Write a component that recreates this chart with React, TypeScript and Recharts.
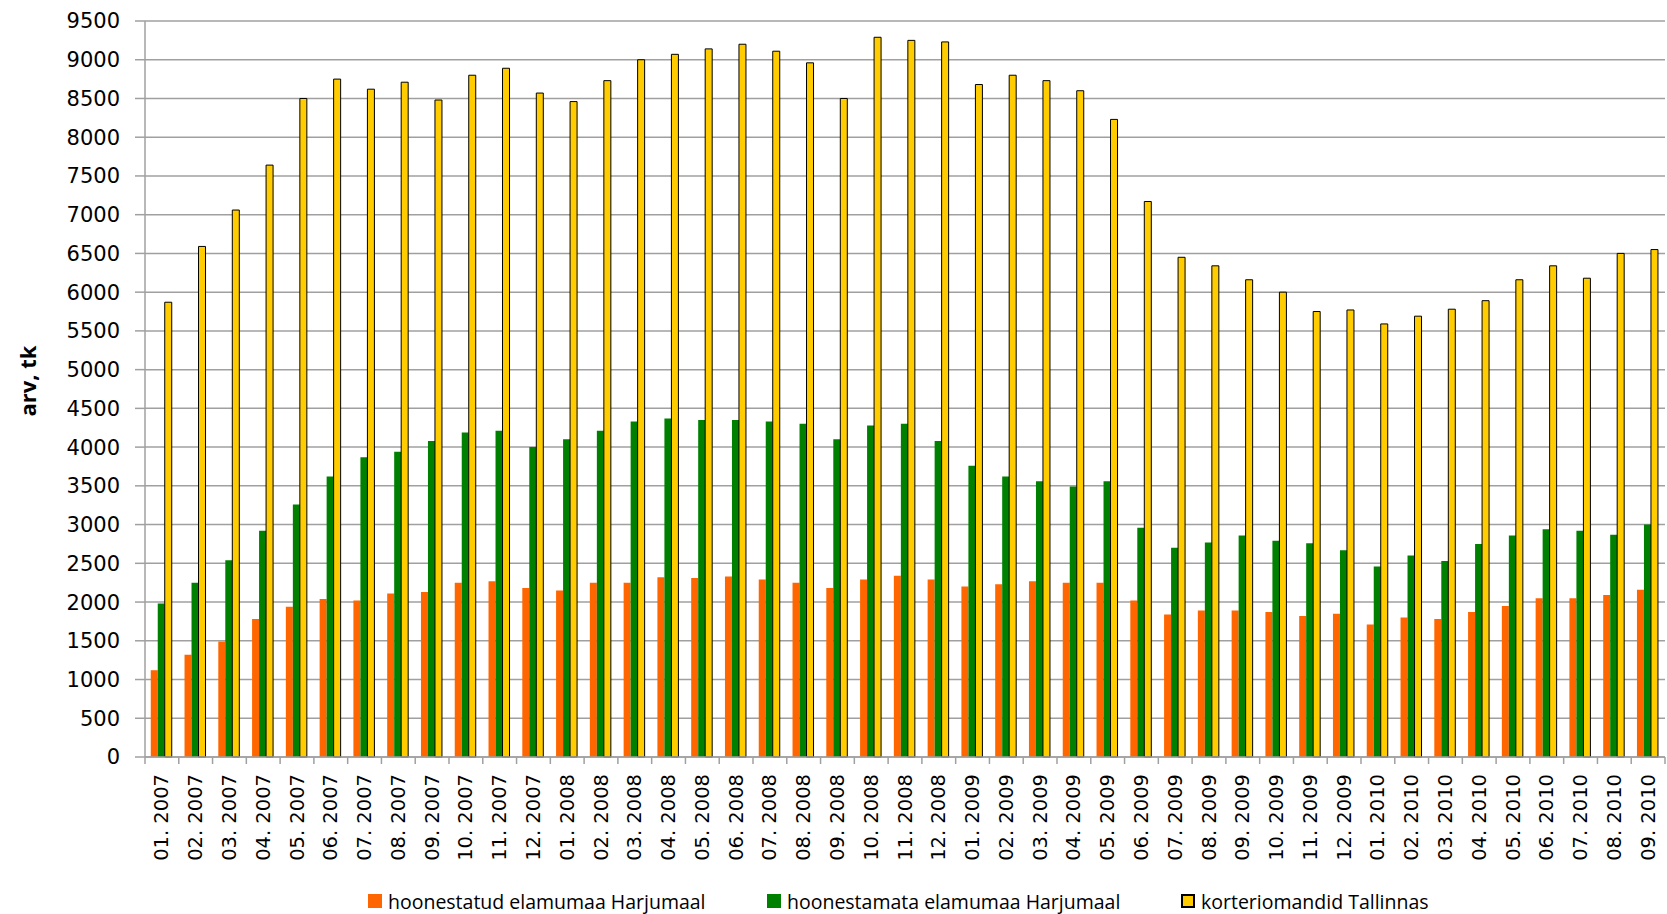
import React from 'react';
import { BarChart, Bar, XAxis, YAxis, CartesianGrid, Legend } from 'recharts';

const months = [
  '01. 2007', '02. 2007', '03. 2007', '04. 2007', '05. 2007', '06. 2007',
  '07. 2007', '08. 2007', '09. 2007', '10. 2007', '11. 2007', '12. 2007',
  '01. 2008', '02. 2008', '03. 2008', '04. 2008', '05. 2008', '06. 2008',
  '07. 2008', '08. 2008', '09. 2008', '10. 2008', '11. 2008', '12. 2008',
  '01. 2009', '02. 2009', '03. 2009', '04. 2009', '05. 2009', '06. 2009',
  '07. 2009', '08. 2009', '09. 2009', '10. 2009', '11. 2009', '12. 2009',
  '01. 2010', '02. 2010', '03. 2010', '04. 2010', '05. 2010', '06. 2010',
  '07. 2010', '08. 2010', '09. 2010',
];

// hoonestatud elamumaa Harjumaal
const built = [
  1120, 1320, 1490, 1780, 1940, 2040, 2020, 2110, 2130, 2250, 2270, 2180,
  2150, 2250, 2250, 2320, 2310, 2330, 2290, 2250, 2180, 2290, 2340, 2290,
  2200, 2230, 2270, 2250, 2250, 2020, 1840, 1890, 1890, 1870, 1820, 1850,
  1710, 1800, 1780, 1870, 1950, 2050, 2050, 2090, 2160,
];

// hoonestamata elamumaa Harjumaal
const unbuilt = [
  1980, 2250, 2540, 2920, 3260, 3620, 3870, 3940, 4080, 4190, 4210, 4000,
  4100, 4210, 4330, 4370, 4350, 4350, 4330, 4300, 4100, 4280, 4300, 4080,
  3760, 3620, 3560, 3490, 3560, 2960, 2700, 2770, 2860, 2790, 2760, 2670,
  2460, 2600, 2530, 2750, 2860, 2940, 2920, 2870, 3000,
];

// korteriomandid Tallinnas
const apartments = [
  5870, 6590, 7060, 7640, 8500, 8750, 8620, 8710, 8480, 8800, 8890, 8570,
  8460, 8730, 9000, 9070, 9140, 9200, 9110, 8960, 8500, 9290, 9250, 9230,
  8680, 8800, 8730, 8600, 8230, 7170, 6450, 6340, 6160, 6000, 5750, 5770,
  5590, 5690, 5780, 5890, 6160, 6340, 6180, 6500, 6550,
];

const yTicks = [
  0, 500, 1000, 1500, 2000, 2500, 3000, 3500, 4000, 4500,
  5000, 5500, 6000, 6500, 7000, 7500, 8000, 8500, 9000, 9500,
];

const series = [
  { key: 'built', name: 'hoonestatud elamumaa Harjumaal', color: '#ff6600', stroke: 'none' },
  { key: 'unbuilt', name: 'hoonestamata elamumaa Harjumaal', color: '#008000', stroke: 'none' },
  { key: 'apartments', name: 'korteriomandid Tallinnas', color: '#ffcc00', stroke: '#000000' },
];

const data = months.map((month, i) => ({
  month,
  built: built[i],
  unbuilt: unbuilt[i],
  apartments: apartments[i],
}));

const GRID = '#a0a0a0';
const BAND = 1520 / months.length;
const legendLeft = [368, 767, 1181];

function MonthTick(props: any) {
  const { x, y, payload, index } = props;
  const half = BAND / 2;
  const ty = y + 17;
  return (
    <g>
      <line x1={x - half} x2={x - half} y1={y} y2={y + 7} stroke={GRID} strokeWidth={1.5} />
      {index === months.length - 1 && (
        <line x1={x + half} x2={x + half} y1={y} y2={y + 7} stroke={GRID} strokeWidth={1.5} />
      )}
      <text
        x={x}
        y={ty}
        transform={`rotate(-90 ${x} ${ty})`}
        textAnchor="end"
        dominantBaseline="central"
        fontFamily="DejaVu Sans"
        fontSize={19.5}
        fill="#000"
      >
        {payload.value}
      </text>
    </g>
  );
}

function LegendRow() {
  return (
    <div style={{ position: 'relative', height: 30, width: 1667, fontFamily: 'Open Sans', fontSize: 19.5, color: '#000' }}>
      {series.map((s, i) => (
        <div key={s.key} style={{ position: 'absolute', left: legendLeft[i], top: 0, height: 30, display: 'flex', alignItems: 'center', whiteSpace: 'nowrap' }}>
          <span
            style={{
              display: 'inline-block',
              width: 14,
              height: 14,
              boxSizing: 'border-box',
              background: s.color,
              border: s.stroke === 'none' ? 'none' : '2px solid #000',
              marginRight: 6,
            }}
          />
          <span>{s.name}</span>
        </div>
      ))}
    </div>
  );
}

export default function App() {
  return (
    <div style={{ position: 'absolute', left: 0, top: 0 }}>
      <BarChart
        width={1667}
        height={914}
        data={data}
        margin={{ top: 21, right: 2, bottom: 0, left: 0 }}
        barCategoryGap="17%"
        barGap={0}
      >
        <CartesianGrid vertical={false} stroke={GRID} strokeWidth={1.5} />
        <XAxis
          dataKey="month"
          interval={0}
          height={127}
          tickSize={0}
          tickMargin={0}
          tick={<MonthTick />}
          axisLine={{ stroke: GRID, strokeWidth: 1.5 }}
          tickLine={false}
        />
        <YAxis
          width={145}
          domain={[0, 9500]}
          ticks={yTicks}
          interval={0}
          tickSize={10}
          tickMargin={15}
          axisLine={{ stroke: GRID, strokeWidth: 1.5 }}
          tickLine={{ stroke: GRID, strokeWidth: 1.5 }}
          tick={{ fontFamily: 'DejaVu Sans', fontSize: 21, fill: '#000' }}
          label={{
            content: () => (
              <text
                x={27}
                y={381}
                transform="rotate(-90 27 381)"
                textAnchor="middle"
                dominantBaseline="central"
                fontFamily="Open Sans"
                fontWeight="bold"
                fontSize={22}
                fill="#000"
              >
                arv, tk
              </text>
            ),
          }}
        />
        <Legend
          verticalAlign="bottom"
          wrapperStyle={{ top: 886, left: 0, bottom: 'auto' }}
          content={() => <LegendRow />}
        />
        {series.map((s) => (
          <Bar
            key={s.key}
            dataKey={s.key}
            name={s.name}
            fill={s.color}
            stroke={s.stroke}
            strokeWidth={1}
            isAnimationActive={false}
          />
        ))}
      </BarChart>
    </div>
  );
}
